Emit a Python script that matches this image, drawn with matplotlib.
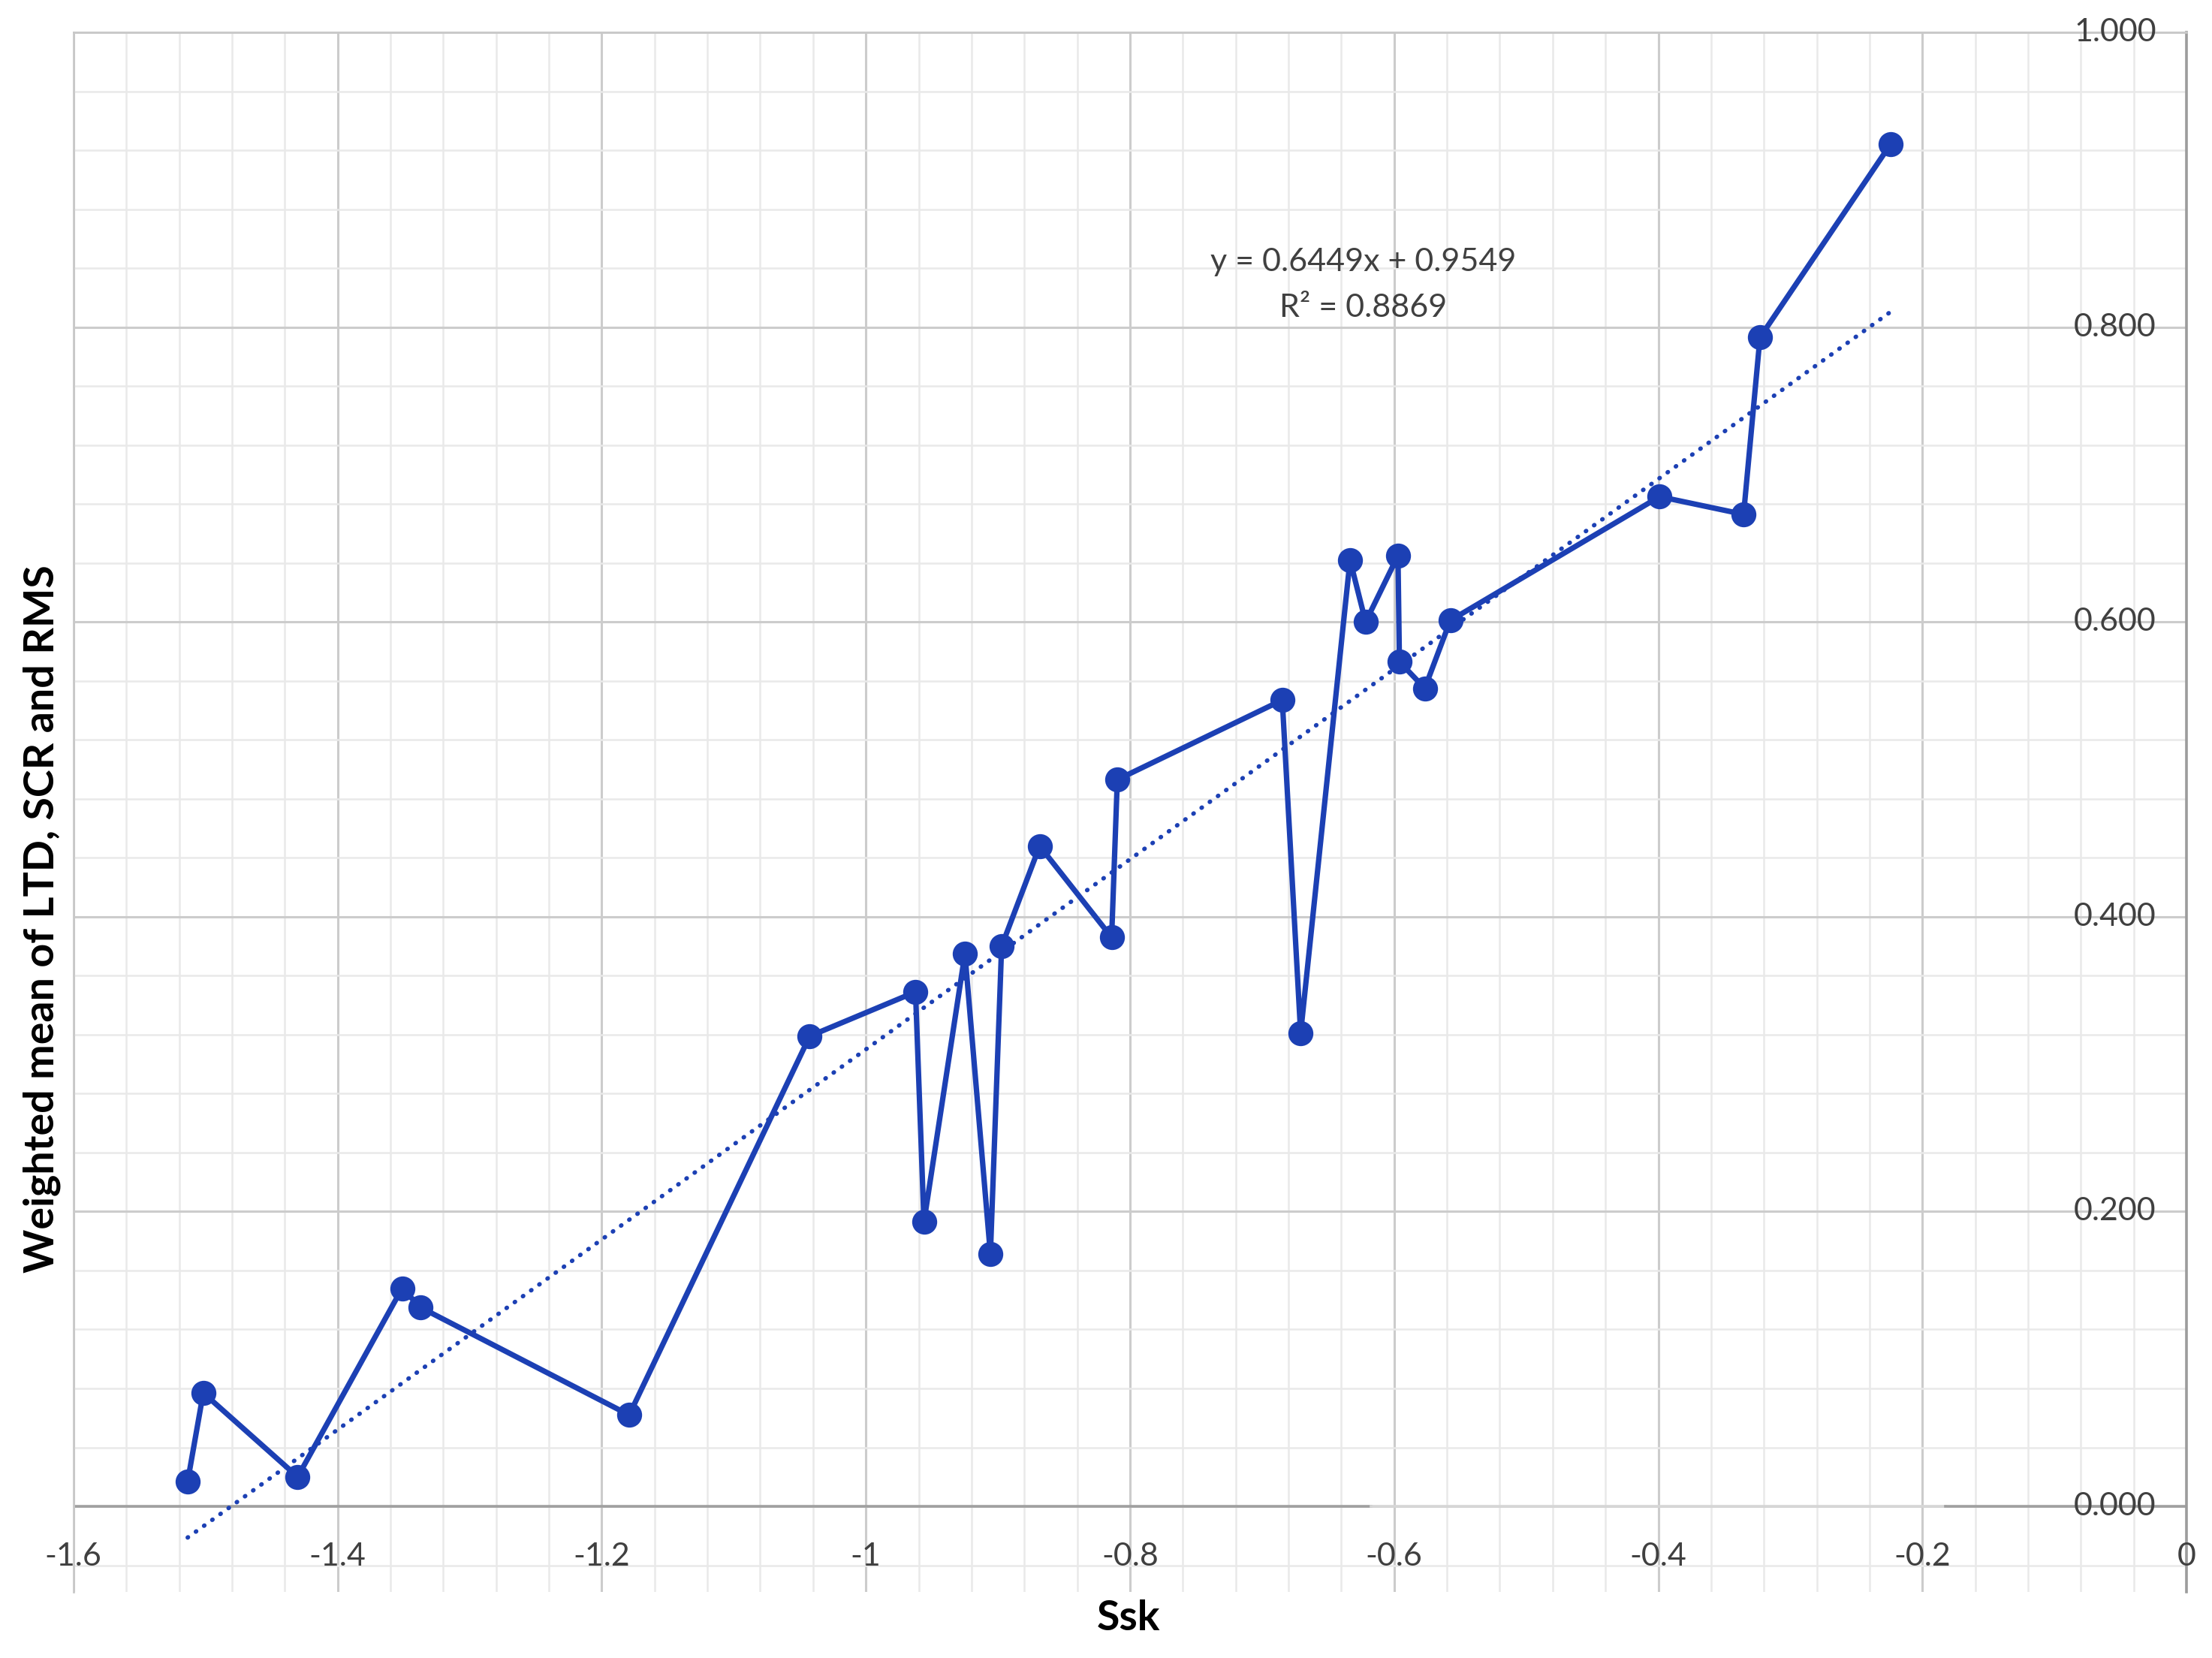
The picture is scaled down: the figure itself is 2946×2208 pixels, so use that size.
import numpy as np
import matplotlib
matplotlib.use('Agg')
import matplotlib.pyplot as plt
from matplotlib.ticker import MultipleLocator

plt.rcParams['font.family'] = ['Lato', 'DejaVu Sans']

# values (sorted by Ssk, joined in this order)
ssk = [-1.5135, -1.5017, -1.4302, -1.3511, -1.3373, -1.1792, -1.0425, -0.9624,
       -0.9560, -0.9250, -0.9057, -0.8972, -0.8684, -0.8139, -0.8096, -0.6847,
       -0.6708, -0.6334, -0.6216, -0.5971, -0.5960, -0.5768, -0.5575, -0.3990,
       -0.3354, -0.3230, -0.2242]
wmean = [0.017, 0.077, 0.020, 0.148, 0.135, 0.062, 0.319, 0.349,
         0.193, 0.375, 0.171, 0.380, 0.448, 0.386, 0.493, 0.547,
         0.321, 0.642, 0.600, 0.645, 0.573, 0.555, 0.601, 0.685,
         0.673, 0.793, 0.924]

x_ticks = [-1.6, -1.4, -1.2, -1.0, -0.8, -0.6, -0.4, -0.2, 0.0]
x_tick_labels = ['-1.6', '-1.4', '-1.2', '-1', '-0.8', '-0.6', '-0.4', '-0.2', '0']
y_ticks = [0.0, 0.2, 0.4, 0.6, 0.8, 1.0]
y_tick_labels = ['0.000', '0.200', '0.400', '0.600', '0.800', '1.000']

slope, intercept, r2 = 0.6449, 0.9549, 0.8869

blue = '#1c40b4'
txt = '#404040'

fig = plt.figure(figsize=(14.73, 11.04), dpi=200)
ax = fig.add_axes([0.0332, 0.0399, 0.9553, 0.9406])
ax.set_xlim(-1.6, 0)
ax.set_ylim(-0.058, 1.0)

# grid like excel: major every 0.2, minor every 0.04
ax.xaxis.set_major_locator(MultipleLocator(0.2))
ax.xaxis.set_minor_locator(MultipleLocator(0.04))
ax.yaxis.set_major_locator(MultipleLocator(0.2))
ax.yaxis.set_minor_locator(MultipleLocator(0.04))
ax.grid(which='minor', color='#e9e9e9', lw=0.9)
ax.grid(which='major', color='#cccccc', lw=1.1)
ax.set_axisbelow(True)
ax.tick_params(which='both', length=0, labelbottom=False, labelleft=False)

for s in ['left', 'top']:
    ax.spines[s].set_color('#c8c8c8')
    ax.spines[s].set_linewidth(1.0)
ax.spines['right'].set_color('#9c9c9c')
ax.spines['right'].set_linewidth(1.3)
ax.spines['bottom'].set_visible(False)

# horizontal axis at y=0 (part of it is lighter in the original)
ax.axhline(0, xmin=0, xmax=0.614, color='#a0a0a0', lw=1.3, zorder=1)
ax.axhline(0, xmin=0.614, xmax=0.886, color='#d6d6d6', lw=1.3, zorder=1)
ax.axhline(0, xmin=0.886, xmax=1, color='#a0a0a0', lw=1.3, zorder=1)

# tick labels drawn inside the plot area
for xv, lab in zip(x_ticks, x_tick_labels):
    ax.text(xv, -0.034, lab, ha='center', va='center', fontsize=15.5, color=txt)
for yv, lab in zip(y_ticks, y_tick_labels):
    ax.text(-0.023, yv, lab, ha='right', va='center', fontsize=15.5, color=txt)

# data
ax.plot(ssk, wmean, color=blue, lw=2.6, marker='o', ms=11, zorder=4)

# linear trendline
xs = np.array([min(ssk), max(ssk)])
ax.plot(xs, slope * xs + intercept, color=blue, lw=2.1,
        linestyle=(0, (0.1, 2.2)), dash_capstyle='round', zorder=3)

ax.text(-0.6236, 0.8439, f'y = {slope}x + {intercept}', ha='center', va='center',
        fontsize=15.5, color=txt)
ax.text(-0.6236, 0.8133, f'R\u00b2 = {r2}', ha='center', va='center',
        fontsize=15.5, color=txt)

fig.text(0.019, 0.446, 'Weighted mean of LTD, SCR and RMS', rotation=90,
         ha='center', va='center', fontsize=20, fontweight='bold')
fig.text(0.510, 0.024, 'Ssk', ha='center', va='center', fontsize=20, fontweight='bold')

fig.savefig('out.png', dpi=200)
